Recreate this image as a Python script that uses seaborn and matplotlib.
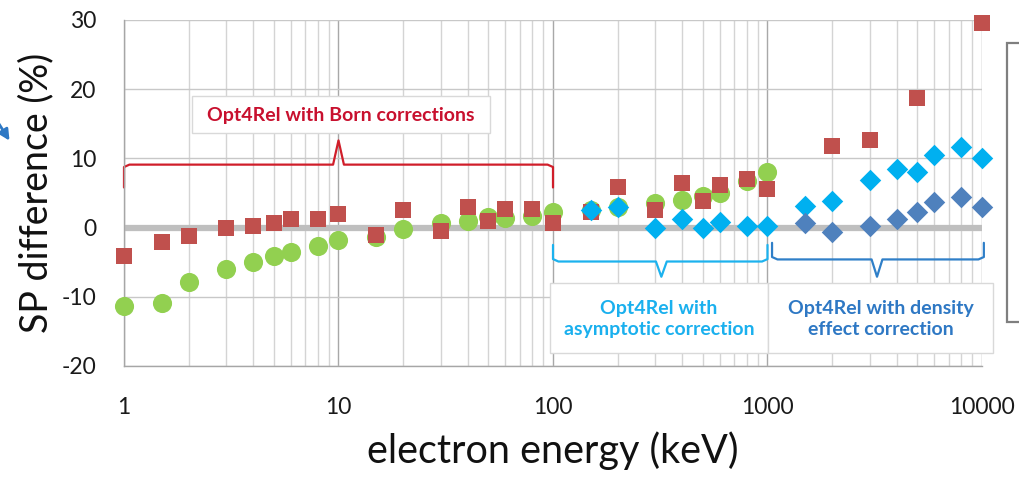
import numpy as np
import pandas as pd
import seaborn as sns
import matplotlib.pyplot as plt
from matplotlib.patches import Rectangle, FancyArrowPatch
from matplotlib.ticker import LogLocator, FixedLocator, NullFormatter

# ---- data: stopping-power difference (%) versus electron energy (keV) ----
energy_green = [1, 1.5, 2, 3, 4, 5, 6, 8, 10, 15, 20, 30, 40, 50, 60, 80, 100,
                150, 200, 300, 400, 500, 600, 800, 1000]
diff_green = [-11.3, -10.9, -7.9, -6.0, -4.9, -4.1, -3.5, -2.6, -1.8, -1.4, -0.2,
              0.7, 0.9, 1.6, 1.4, 1.7, 2.2, 2.5, 3.0, 3.6, 4.0, 4.5, 5.0, 6.7, 8.1]

energy_red = [1, 1.5, 2, 3, 4, 5, 6, 8, 10, 15, 20, 30, 40, 50, 60, 80, 100,
              150, 200, 300, 400, 500, 600, 800, 1000, 2000, 3000, 5000, 10000]
diff_red = [-4.1, -2.1, -1.2, 0.0, 0.3, 0.7, 1.2, 1.3, 1.9, -1.0, 2.5, -0.5, 3.0,
            0.9, 2.7, 2.7, 0.6, 2.2, 5.8, 2.5, 6.5, 3.9, 6.1, 7.0, 5.6, 11.8,
            12.7, 18.8, 29.5]

energy_cyan = [150, 200, 300, 400, 500, 600, 800, 1000, 1500, 2000, 3000, 4000,
               5000, 6000, 8000, 10000]
diff_cyan = [2.6, 3.0, 0.0, 1.3, 0.0, 0.8, 0.2, 0.2, 3.1, 3.8, 6.9, 8.4, 8.1,
             10.5, 11.6, 10.1]

energy_blue = [1500, 2000, 3000, 4000, 5000, 6000, 8000, 10000]
diff_blue = [0.7, -0.7, 0.2, 1.2, 2.2, 3.7, 4.4, 3.0]

y_ticks = [-20, -10, 0, 10, 20, 30]
x_ticks = [1, 10, 100, 1000, 10000]
x_ticklabels = ["1", "10", "100", "1000", "10000"]

born_label = "Opt4Rel with Born corrections"
asym_label = "Opt4Rel with\nasymptotic correction"
dens_label = "Opt4Rel with density\neffect correction"

# ---- style ----
sns.set_theme(style="white")
plt.rcParams["font.family"] = ["Lato", "DejaVu Sans"]

W, H = 1020, 479
fig = plt.figure(figsize=(W / 100, H / 100), dpi=100)
ax = fig.add_axes([124 / W, 1 - 366 / H, (982 - 124) / W, (366 - 20) / H])


def fx(px):
    return px / W


def fy(py):
    return 1 - py / H


# grid
ax.set_xscale("log")
ax.set_xlim(1, 10000)
ax.set_ylim(-20, 30)
ax.xaxis.set_major_locator(FixedLocator(x_ticks))
ax.set_xticklabels(x_ticklabels)
ax.xaxis.set_minor_locator(LogLocator(base=10, subs=np.arange(2, 10)))
ax.xaxis.set_minor_formatter(NullFormatter())
ax.set_yticks(y_ticks)
ax.set_yticklabels([str(v) for v in y_ticks])
ax.grid(which="major", axis="x", color="#a8a8a8", lw=1.0, zorder=0)
ax.grid(which="minor", axis="x", color="#d4d4d4", lw=1.0, zorder=0)
ax.grid(which="major", axis="y", color="#c8c8c8", lw=1.0, zorder=0)
ax.set_axisbelow(True)

ax.axhline(0, color="#bfbfbf", lw=4.5, zorder=1)

for side in ["top", "right"]:
    ax.spines[side].set_visible(False)
for side in ["left", "bottom"]:
    ax.spines[side].set_color("#a6a6a6")
    ax.spines[side].set_linewidth(1.0)
ax.tick_params(axis="both", which="major", direction="out", length=6,
               width=1.0, color="#a6a6a6", labelsize=16.5, labelcolor="#1a1a1a")
ax.tick_params(axis="y", which="major", pad=14)
ax.tick_params(axis="x", which="major", pad=16)
ax.tick_params(axis="x", which="minor", length=0)

# ---- points ----
series = [
    (energy_green, diff_green, "#92d050", "o", 190),
    (energy_red, diff_red, "#c0504d", "s", 120),
    (energy_cyan, diff_cyan, "#00b0f0", "D", 120),
    (energy_blue, diff_blue, "#4f81bd", "D", 120),
]
for i, (e, d, col, mk, sz) in enumerate(series):
    df = pd.DataFrame({"energy": e, "diff": d})
    sns.scatterplot(data=df, x="energy", y="diff", ax=ax, color=col, marker=mk,
                    s=sz, linewidth=0, zorder=3 + i, legend=False,
                    clip_on=False)

ax.set_xlabel("electron energy (keV)", fontsize=28.5, color="#111111", labelpad=10)
ax.set_ylabel("SP difference (%)", fontsize=27, color="#111111", labelpad=5)


# ---- range brackets ----
def bracket(x0, x1, xm, y_end, y_bar, y_tip, color, lw=1.6):
    s = np.sign(y_bar - y_end)
    c = 0.35 * s
    xs = [x0, x0, x0 * 1.06, xm / 1.06, xm, xm * 1.06, x1 / 1.06, x1, x1]
    ys = [y_end, y_bar - c, y_bar, y_bar, y_tip, y_bar, y_bar, y_bar - c, y_end]
    ax.plot(xs, ys, color=color, lw=lw, clip_on=False, zorder=2,
            solid_joinstyle="round")


bracket(1, 100, 10, 5.8, 9.1, 12.6, "#d01e2a")
bracket(100, 1000, 320, -2.5, -4.9, -7.1, "#1cb2ee")
bracket(1050, 10200, 3240, -2.2, -4.6, -7.1, "#2f7fc8")

# label boxes
boxes = [
    (192, 96, 490, 133, born_label, "#c8102e"),
    (550, 283, 768, 353, asym_label, "#1ab0ee"),
    (768, 283, 993, 353, dens_label, "#2e78c4"),
]
for x0, y0, x1, y1, txt, col in boxes:
    fig.patches.append(Rectangle((fx(x0), fy(y1)), fx(x1 - x0), (y1 - y0) / H,
                                 transform=fig.transFigure, facecolor="white",
                                 edgecolor="#d9d9d9", lw=1.0, zorder=5))
    fig.text(fx((x0 + x1) / 2), fy((y0 + y1) / 2 + 1), txt, ha="center",
             va="center", fontsize=14, fontweight="bold", color=col,
             linespacing=1.3, zorder=6)

# legend frame at the right edge
fig.patches.append(Rectangle((fx(1007), fy(322)), fx(40), (322 - 43) / H,
                             transform=fig.transFigure, facecolor="white",
                             edgecolor="#7f7f7f", lw=1.6, zorder=5))

# small pointer arrow at the left edge
fig.patches.append(FancyArrowPatch(
    (fx(-6), fy(116)), (fx(11), fy(143)), transform=fig.transFigure,
    arrowstyle="-|>", mutation_scale=16, color="#2e78c4", lw=2.0))

fig.savefig("out.png", dpi=100)
